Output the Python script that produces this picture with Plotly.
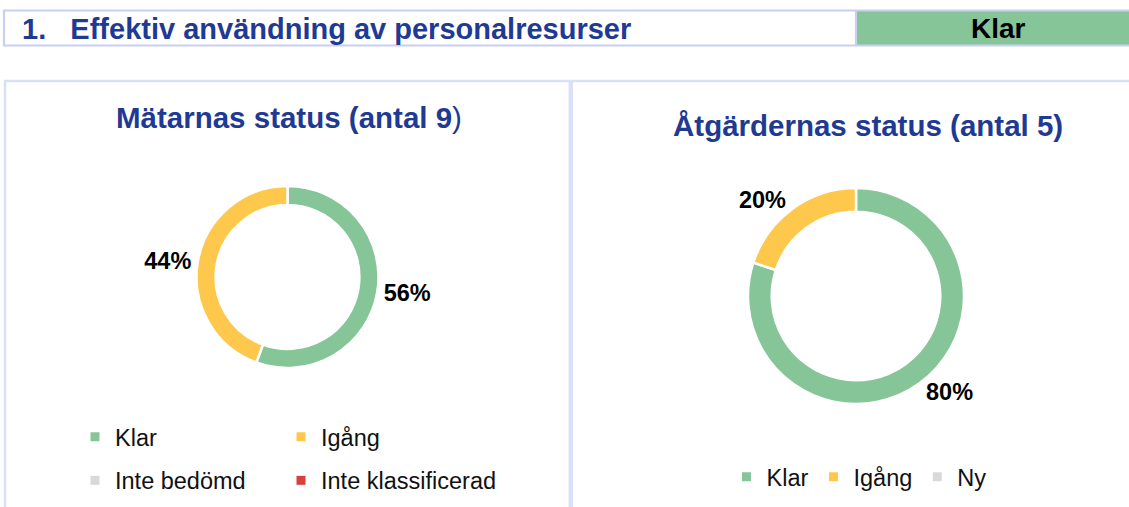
import plotly.graph_objects as go

W, H = 1129, 507

header_title = "1.   Effektiv användning av personalresurser"
header_status = "Klar"

left_title = "Mätarnas status (antal 9"
right_title = "Åtgärdernas status (antal 5)"

left_labels = ["Klar", "Igång", "Inte bedömd", "Inte klassificerad"]
left_values = [5, 4, 0, 0]
left_colors = ["#86C598", "#FEC84C", "#D9D9D9", "#D83F3F"]

right_labels = ["Klar", "Igång", "Ny"]
right_values = [4, 1, 0]
right_colors = ["#86C598", "#FEC84C", "#D9D9D9"]

FONT = "Liberation Sans, Arial, sans-serif"
BLUE = "#1F3A93"
HEAD_BORDER = "#C8D0F0"
PANEL_BORDER = "#DAE0F6"


def px(x):
    return x / W


def py(y):
    return 1 - y / H


def domain(cx, cy, r):
    return dict(x=[px(cx - r), px(cx + r)], y=[py(cy + r), py(cy - r)])


fig = go.Figure()


def add_pie(labels, values, colors, dom, hole):
    keep = [i for i, v in enumerate(values) if v > 0]
    fig.add_trace(go.Pie(
        labels=[labels[i] for i in keep],
        values=[values[i] for i in keep],
        marker=dict(colors=[colors[i] for i in keep], line=dict(color="white", width=2.5)),
        hole=hole,
        sort=False,
        direction="clockwise",
        rotation=0,
        textposition="outside",
        texttemplate="%{percent:.0%}",
        textfont=dict(family=FONT, size=23.5, color="black", weight="bold"),
        showlegend=False,
        domain=dom,
        hoverinfo="label+value+percent",
    ))


add_pie(left_labels, left_values, left_colors, domain(287.5, 277, 91), 0.79)
add_pie(right_labels, right_values, right_colors, domain(856, 296, 108), 0.78)

# legend entries: left panel in two columns (two vertical legends), right panel one row
left_legend_ids = ["legend", "legend2", "legend", "legend2"]
for i, (lab, col, lg) in enumerate(zip(left_labels, left_colors, left_legend_ids)):
    fig.add_trace(go.Scatter(x=[None], y=[None], mode="markers", name=lab,
                             marker=dict(symbol="square", size=9, color=col),
                             legend=lg, legendgroup="L%d" % i, hoverinfo="skip"))
for i, (lab, col) in enumerate(zip(right_labels, right_colors)):
    fig.add_trace(go.Scatter(x=[None], y=[None], mode="markers", name=lab,
                             marker=dict(symbol="square", size=9, color=col),
                             legend="legend3", legendgroup="R%d" % i, hoverinfo="skip"))

legend_font = dict(family=FONT, size=23.5, color="#111111")
col_legend = dict(orientation="v", font=legend_font, bgcolor="rgba(0,0,0,0)",
                  xanchor="left", yanchor="middle", itemwidth=30, tracegroupgap=10,
                  traceorder="grouped")

shapes = [
    # header
    dict(type="rect", xref="paper", yref="paper", x0=px(857), x1=px(1131), y0=py(45), y1=py(11),
         line=dict(width=0), fillcolor="#86C598", layer="below"),
    dict(type="rect", xref="paper", yref="paper", x0=px(4), x1=px(1131), y0=py(45.5), y1=py(10.5),
         line=dict(color=HEAD_BORDER, width=2.2), layer="below"),
    dict(type="line", xref="paper", yref="paper", x0=px(856), x1=px(856), y0=py(45.5), y1=py(10.5),
         line=dict(color=HEAD_BORDER, width=2.2), layer="below"),
    # panels
    dict(type="rect", xref="paper", yref="paper", x0=px(5), x1=px(569.8), y0=py(512), y1=py(81),
         line=dict(color=PANEL_BORDER, width=2.5), layer="below"),
    dict(type="rect", xref="paper", yref="paper", x0=px(571.8), x1=px(1133), y0=py(512), y1=py(81),
         line=dict(color=PANEL_BORDER, width=2.5), layer="below"),
]

annotations = [
    dict(text="<b>" + header_title + "</b>", x=px(20), y=py(29), xanchor="left", yanchor="middle",
         font=dict(family=FONT, size=29, color=BLUE)),
    dict(text="<b>" + header_status + "</b>", x=px(998), y=py(29), xanchor="center", yanchor="middle",
         font=dict(family=FONT, size=28, color="black")),
    dict(text="<b>" + left_title + "</b>)", x=px(289), y=py(117), xanchor="center", yanchor="middle",
         font=dict(family=FONT, size=29.5, color=BLUE)),
    dict(text="<b>" + right_title + "</b>", x=px(868), y=py(125), xanchor="center", yanchor="middle",
         font=dict(family=FONT, size=29.5, color=BLUE)),
]
for a in annotations:
    a.update(xref="paper", yref="paper", showarrow=False)

fig.update_layout(
    width=W, height=H,
    margin=dict(l=0, r=0, t=0, b=0),
    paper_bgcolor="white", plot_bgcolor="white",
    xaxis=dict(visible=False, domain=[0, 0.001]), yaxis=dict(visible=False, domain=[0, 0.001]),
    shapes=shapes,
    annotations=annotations,
    legend=dict(col_legend, x=px(75), y=py(459)),
    legend2=dict(col_legend, x=px(281), y=py(459)),
    legend3=dict(orientation="h", font=legend_font, bgcolor="rgba(0,0,0,0)",
                 xanchor="center", yanchor="middle", itemwidth=30, entrywidth=0,
                 x=px(859), y=py(477)),
)

fig.write_html("out.html", post_script="document.body.style.margin='0';",
               config={"displayModeBar": False})
